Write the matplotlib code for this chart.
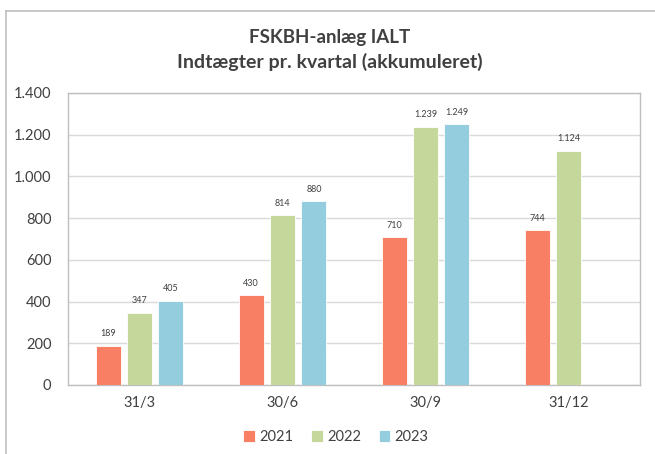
import matplotlib.pyplot as plt
from matplotlib.lines import Line2D
import numpy as np

# ==========================================
# DATA
# ==========================================
categories = ['31/3', '30/6', '30/9', '31/12']
years = ['2021', '2022', '2023']
values_2021 = [189, 430, 710, 744]
values_2022 = [347, 814, 1239, 1124]
values_2023 = [405, 880, 1249, None]
y_ticks = [0, 200, 400, 600, 800, 1000, 1200, 1400]

colors = ['#F87F64', '#C5D79B', '#94CDDE']

def fmt(v):
    # Danish thousand separator
    return f'{v:,.0f}'.replace(',', '.')

plt.rcParams['font.family'] = ['Lato', 'DejaVu Sans']

fig = plt.figure(figsize=(6.55, 4.54), dpi=100)
ax = fig.add_axes([68 / 655, 1 - 385 / 454, 572 / 655, 292 / 454])

x = np.arange(len(categories))
width = 0.175
offset = 0.22
series = [values_2021, values_2022, values_2023]
for i, (vals, col, yr) in enumerate(zip(series, colors, years)):
    xs = [xi + (i - 1) * offset for xi, v in zip(x, vals) if v is not None]
    vs = [v for v in vals if v is not None]
    ax.bar(xs, vs, width=width, color=col, edgecolor='white', linewidth=0.6, label=yr, zorder=3)
    for xx, vv in zip(xs, vs):
        ax.text(xx, vv + 35, fmt(vv), ha='center', va='bottom', fontsize=6.5, color='#404040')

ax.set_xlim(-0.5, len(categories) - 0.5)
ax.set_ylim(0, 1400)
ax.set_yticks(y_ticks)
ax.set_yticklabels([fmt(t) for t in y_ticks], fontsize=10.5, color='#404040')
ax.set_xticks(x)
ax.set_xticklabels(categories, fontsize=10.5, color='#404040')
ax.tick_params(axis='both', length=0, pad=8)
ax.tick_params(axis='y', pad=12)
ax.grid(axis='y', color='#D9D9D9', linewidth=1, zorder=0)
for s in ax.spines.values():
    s.set_color('#BFBFBF')
    s.set_linewidth(1)

fig.text(330 / 655, 1 - 38 / 454, 'FSKBH-anlæg IALT', ha='center', va='center',
         fontsize=13.5, fontweight='bold', color='#404040')
fig.text(330 / 655, 1 - 62 / 454, 'Indtægter pr. kvartal (akkumuleret)', ha='center', va='center',
         fontsize=14, fontweight='bold', color='#404040')

fig.legend(loc='center', bbox_to_anchor=(336 / 655, 1 - 437 / 454), ncol=3, frameon=False,
           fontsize=10.5, handlelength=0.8, handleheight=0.8, handletextpad=0.3, columnspacing=1.2,
           labelcolor='#404040')

# outer chart frame (cropped on right and bottom)
fig.add_artist(Line2D([6 / 655, 1], [1 - 11 / 454, 1 - 11 / 454], color='#BFBFBF', linewidth=1.2))
fig.add_artist(Line2D([6 / 655, 6 / 655], [0, 1 - 11 / 454], color='#BFBFBF', linewidth=1.2))

fig.savefig('out.png', dpi=100)
